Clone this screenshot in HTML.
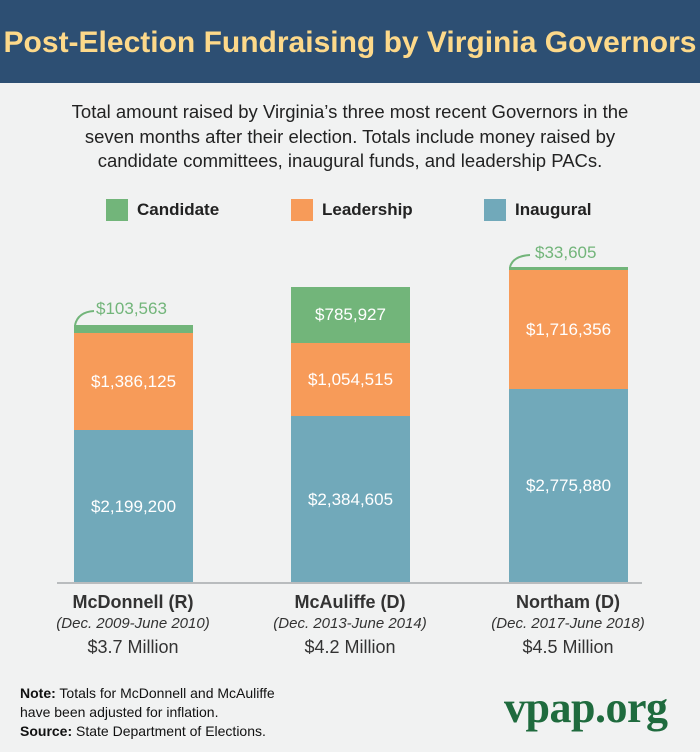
<!DOCTYPE html><html><head><style>
body{margin:0;width:700px;height:752px;background:#f1f2f2;font-family:"Liberation Sans",sans-serif;position:relative;overflow:hidden}
.a{position:absolute}
.hd{left:0;top:0;width:700px;height:83px;background:#2d4f73;color:#fdd98a;font-weight:bold;font-size:30px;text-align:center;line-height:86px;letter-spacing:0}
.sub{left:0;width:700px;top:100px;text-align:center;font-size:18.5px;line-height:24.5px;color:#222}
.lg{top:199px;width:22px;height:22px}
.lt{top:199px;font-size:17px;font-weight:bold;line-height:22px;color:#222}
.bar{color:#fff;font-size:17px;text-align:center;display:flex;align-items:center;justify-content:center}
.g{background:#72b57a}.o{background:#f79b59}.b{background:#71a9ba}
.nm{width:220px;text-align:center;color:#333}
</style></head><body>
<div class="a hd">Post-Election Fundraising by Virginia Governors</div>
<div class="a sub">Total amount raised by Virginia’s three most recent Governors in the<br>seven months after their election. Totals include money raised by<br>candidate committees, inaugural funds, and leadership PACs.</div>
<div class="a lg g" style="left:106px"></div><div class="a lt" style="left:137px">Candidate</div>
<div class="a lg o" style="left:291px"></div><div class="a lt" style="left:322px">Leadership</div>
<div class="a lg b" style="left:484px"></div><div class="a lt" style="left:515px">Inaugural</div>

<div class="a bar g" style="left:74px;top:325px;width:119px;height:8px"></div>
<div class="a bar o" style="left:74px;top:333px;width:119px;height:97px">$1,386,125</div>
<div class="a bar b" style="left:74px;top:430px;width:119px;height:153px">$2,199,200</div>
<div class="a bar g" style="left:291px;top:287px;width:119px;height:56px">$785,927</div>
<div class="a bar o" style="left:291px;top:343px;width:119px;height:73px">$1,054,515</div>
<div class="a bar b" style="left:291px;top:416px;width:119px;height:167px">$2,384,605</div>
<div class="a bar g" style="left:509px;top:267px;width:119px;height:3px"></div>
<div class="a bar o" style="left:509px;top:270px;width:119px;height:119px">$1,716,356</div>
<div class="a bar b" style="left:509px;top:389px;width:119px;height:194px">$2,775,880</div>
<div class="a" style="left:57px;top:582px;width:585px;height:2px;background:#b9bcbe"></div>
<svg class="a" style="left:0;top:0" width="700" height="752"><path d="M75,325 Q78,312 94,311" stroke="#72b57a" stroke-width="2" fill="none"/><path d="M510,267 Q513,256 530,255" stroke="#72b57a" stroke-width="2" fill="none"/></svg>
<div class="a" style="left:96px;top:299px;font-size:17px;color:#72b57a">$103,563</div>
<div class="a" style="left:535px;top:243px;font-size:17px;color:#72b57a">$33,605</div>

<div class="a nm" style="left:23px;top:591px"><div style="font-weight:bold;font-size:18px;line-height:22px">McDonnell (R)</div><div style="font-style:italic;font-size:15px;line-height:22px">(Dec. 2009-June 2010)</div><div style="font-size:18px;line-height:24px">$3.7 Million</div></div>
<div class="a nm" style="left:240px;top:591px"><div style="font-weight:bold;font-size:18px;line-height:22px">McAuliffe (D)</div><div style="font-style:italic;font-size:15px;line-height:22px">(Dec. 2013-June 2014)</div><div style="font-size:18px;line-height:24px">$4.2 Million</div></div>
<div class="a nm" style="left:458px;top:591px"><div style="font-weight:bold;font-size:18px;line-height:22px">Northam (D)</div><div style="font-style:italic;font-size:15px;line-height:22px">(Dec. 2017-June 2018)</div><div style="font-size:18px;line-height:24px">$4.5 Million</div></div>

<div class="a" style="left:20px;top:684px;font-size:14px;line-height:19px;color:#111"><b>Note:</b> Totals for McDonnell and McAuliffe<br>have been adjusted for inflation.<br><b>Source:</b> State Department of Elections.</div>
<div class="a" style="left:504px;top:682px;font-family:'Liberation Serif',serif;font-weight:bold;font-size:44px;color:#1f6b3e;letter-spacing:-0.5px">vpap.org</div>
</body></html>
